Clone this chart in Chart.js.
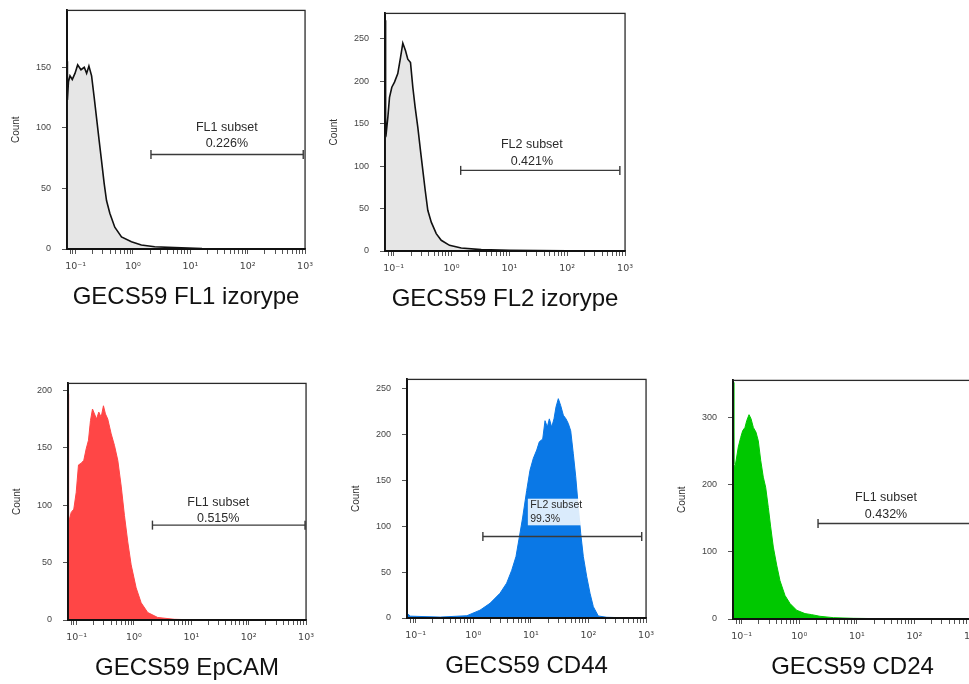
<!DOCTYPE html>
<html><head><meta charset="utf-8">
<script src="https://cdn.jsdelivr.net/npm/chart.js@4.4.1/dist/chart.umd.min.js"></script>
<style>
html,body{margin:0;padding:0;width:969px;height:684px;overflow:hidden;background:#fff;position:relative;}
canvas{position:absolute;}
</style></head><body>
<canvas id="c0"></canvas><canvas id="c1"></canvas><canvas id="c2"></canvas><canvas id="c3"></canvas><canvas id="c4"></canvas>
<script>
// ---------- data ----------
const xTickValues = [0.1, 1, 10, 100, 1000];
const xTickLabels = ['10⁻¹', '10⁰', '10¹', '10²', '10³'];

const panelTitles = ['GECS59 FL1 izorype', 'GECS59 FL2 izorype', 'GECS59 EpCAM', 'GECS59 CD44', 'GECS59 CD24'];
const gateNames = ['FL1 subset', 'FL2 subset', 'FL1 subset', 'FL2 subset', 'FL1 subset'];
const gatePercents = ['0.226%', '0.421%', '0.515%', '99.3%', '0.432%'];
const gateStarts = [2.06, 1.44, 2.1, 1.47, 2.12];
const gateEnds = [930, 813, 960, 841, 1000];
const gateLevels = [78, 95, 82.6, 88.8, 142];
const yMaxes = [197, 280, 206, 260, 355];

const fl1IsoIntensity = [0.0708,0.072,0.075,0.0798,0.0875,0.0975,0.1086,0.124,0.1416,0.1556,0.1706,0.19,0.211,0.232,0.258,0.283,0.315,0.346,0.395,0.482,0.631,0.94,1.4,2.39,5.3,16,100,1000];
const fl1IsoCount = [155,123,138,143,140,145,152,148,150,145,151,143,125,108,89,73,54,40,29.5,18,10,6,3.3,1.9,1.1,0.4,0.1,0];

const fl2IsoIntensity = [0.0708,0.0725,0.0741,0.0794,0.0847,0.0929,0.1033,0.1178,0.1312,0.1439,0.1603,0.1754,0.1954,0.2143,0.2355,0.2612,0.2911,0.3192,0.3516,0.389,0.4467,0.5445,0.6637,0.9247,1.472,3.266,10,100,1000];
const fl2IsoCount = [272,140,138,158,181,193,199,209,228,245,236,226,222,193,169,146,118,95,71,48,34,20.5,12.6,6.7,3.5,1.6,0.8,0.2,0];

const epcamIntensity = [0.0708,0.0725,0.0752,0.0805,0.0893,0.0984,0.1079,0.1202,0.1334,0.1469,0.1611,0.1746,0.1892,0.2051,0.2223,0.2438,0.2679,0.2938,0.3184,0.3491,0.4009,0.4571,0.5224,0.5984,0.6823,0.7798,0.8933,1.091,1.334,1.738,2.594,5.07,10,100,1000];
const epcamCount = [197,86,88,93.7,96.5,111,135,136.5,139,149,156.5,173.7,183.7,179.4,175,181,176.6,186.5,179.4,175,162,152,139,116.6,91,68,48,28,15,6.5,2.2,0.6,0.2,0,0];

const cd44Intensity = [0.0708,0.0813,0.269,0.776,1.309,1.954,2.917,3.802,4.656,5.521,6.31,7.228,8.472,9.66,11.04,12.65,14.03,16.07,17.62,19.32,20.94,23.01,25.23,27.35,29.99,32.96,36.64,40.74,44.67,49.2,54.58,60.12,66.68,73.45,81.47,93.33,106.4,121.6,148.3,207.5,400,1000];
const cd44Count = [5,2,1,2.5,8.5,16,27,38,52,67,88,110,139,161,174,183,192,195,215,208,217,208,217,230,239,231.5,221,217,212,204,179,154,121,92,67,45,27,12.3,2.2,0.8,0.3,0];

const cd24Intensity = [0.0708,0.0733,0.0767,0.082,0.0875,0.0962,0.1042,0.1143,0.1225,0.1343,0.1455,0.1596,0.1774,0.1945,0.2143,0.2377,0.2612,0.2904,0.3192,0.3548,0.4064,0.4634,0.5662,0.6918,0.9036,1.259,1.644,2.291,3.899,8.71,31.6,100,1000];
const cd24Count = [352,230,226,241,256,270,280,285,295,304,298,285,278,265,236,211,196,166,137,107,80,57,35,23,13,8,6.5,4,2,1,0.4,0.2,0];

// ---------- layout / style ----------
const FONT = "'Liberation Sans', Arial, Helvetica, sans-serif";
Chart.defaults.font.family = FONT;

const panels = [
  {l:67, t:10, w:238, h:239, xs:fl1IsoIntensity, ys:fl1IsoCount, fill:'#e6e6e6', line:'#111', lw:1.6, step:50,
   label:{x:43.3, ys:[100.5, 86.8], align:'center', size:12.5}},
  {l:385, t:13, w:240, h:238, xs:fl2IsoIntensity, ys:fl2IsoCount, fill:'#e6e6e6', line:'#111', lw:1.6, step:50,
   label:{x:24.5, ys:[125.5, 106], align:'center', size:12.5}},
  {l:68, t:383, w:238, h:237, xs:epcamIntensity, ys:epcamCount, fill:'#ff4646', line:'#ff4646', lw:1, step:50,
   label:{x:29.4, ys:[102.6, 88.7], align:'center', size:12.5}},
  {l:407, t:379, w:239, h:239, xs:cd44Intensity, ys:cd44Count, fill:'#0a78e6', line:'#0a78e6', lw:1, step:50,
   label:{x:9.75, ys:[123, 108], align:'left', size:10.5, box:{x0:8.87, x1:73.6, y0:101, y1:130}}},
  {l:733, t:380, w:239, h:239, xs:cd24Intensity, ys:cd24Count, fill:'#00c800', line:'#00c800', lw:1, step:100,
   label:{x:32.1, ys:[180.7, 156], align:'center', size:12.5}}
];

const minorTicks = [];
for (let e = -2; e <= 2; e++) for (let s = 1; s <= 9; s++) {
  const v = +(s * Math.pow(10, e)).toPrecision(3);
  if (v >= 0.0708 && v <= 1000) minorTicks.push(v);
}
minorTicks.push(1000);

function decadeLabel(v) {
  for (let i = 0; i < xTickValues.length; i++) {
    if (Math.abs(v - xTickValues[i]) / xTickValues[i] < 1e-6) return xTickLabels[i];
  }
  return '';
}

const gateTextPlugin = {
  id: 'gateText',
  afterDatasetsDraw(chart, args, o) {
    const {ctx, chartArea: a, scales: {x, y}} = chart;
    ctx.save();
    ctx.strokeStyle = '#2a2a2a'; ctx.lineWidth = 1.3;
    ctx.strokeRect(a.left, a.top, a.right - a.left, a.bottom - a.top);
    ctx.strokeStyle = '#111'; ctx.lineWidth = 1.8;
    ctx.beginPath(); ctx.moveTo(a.left, a.top); ctx.lineTo(a.left, a.bottom); ctx.lineTo(a.right, a.bottom); ctx.stroke();
    if (o.box) {
      const x0 = x.getPixelForValue(o.box.x0), x1 = x.getPixelForValue(o.box.x1);
      const y0 = y.getPixelForValue(o.box.y0), y1 = y.getPixelForValue(o.box.y1);
      ctx.fillStyle = 'rgba(255,255,255,0.85)';
      ctx.fillRect(x0, y1, x1 - x0, y0 - y1);
    }
    ctx.fillStyle = '#2b2b2b';
    ctx.font = o.size + 'px ' + FONT;
    ctx.textAlign = o.align; ctx.textBaseline = 'middle';
    o.lines.forEach((t, i) => ctx.fillText(t, x.getPixelForValue(o.x), y.getPixelForValue(o.ys[i])));
    ctx.restore();
  }
};

function makeChart(p, i, cw, ch) {
  const cv = document.getElementById('c' + i);
  cv.width = cw; cv.height = ch;
  cv.style.width = cw + 'px'; cv.style.height = ch + 'px';
  const pts = p.xs.map((v, k) => ({x: v, y: p.ys[k]}));
  return new Chart(cv, {
    type: 'line',
    data: {
      datasets: [
        {data: [{x: gateStarts[i], y: gateLevels[i]}, {x: gateEnds[i], y: gateLevels[i]}],
         borderColor: '#3a3a3a', borderWidth: 1.4, fill: false, clip: false, order: 0,
         pointStyle: 'line', pointRotation: 90, pointRadius: 4.5, pointBorderColor: '#3a3a3a', pointBorderWidth: 1.4,
         pointHoverRadius: 4.5},
        {data: pts, borderColor: p.line, borderWidth: p.lw, backgroundColor: p.fill, fill: 'origin',
         pointRadius: 0, tension: 0, order: 1}
      ]
    },
    options: {
      responsive: false, maintainAspectRatio: false, animation: false, devicePixelRatio: 1,
      layout: {padding: {top: 5, right: 8, left: 0, bottom: 0}},
      events: [],
      plugins: {
        legend: {display: false}, tooltip: {enabled: false},
        gateText: {lines: [gateNames[i], gatePercents[i]], x: p.label.x, ys: p.label.ys,
                   align: p.label.align, size: p.label.size, box: p.label.box || null}
      },
      scales: {
        x: {
          type: 'logarithmic', min: 0.0708, max: 1000,
          afterBuildTicks: s => { s.ticks = minorTicks.map(v => ({value: v})); },
          afterFit: s => { s.height = 60; },
          ticks: {autoSkip: false, maxRotation: 0, minRotation: 0, padding: 7, color: '#444',
                  font: {size: 9.5, family: "'DejaVu Sans', sans-serif"}, callback: v => decadeLabel(v)},
          grid: {display: true, drawOnChartArea: false, drawTicks: true, tickLength: 5, tickColor: '#555', tickWidth: 1},
          border: {display: true, color: '#111', width: 1.8},
          title: {display: true, text: panelTitles[i], color: '#111', font: {size: 24, lineHeight: 1}, padding: {top: 0, bottom: 0}}
        },
        y: {
          type: 'linear', min: 0, max: yMaxes[i],
          afterFit: s => { s.width = 60; },
          ticks: {stepSize: p.step, includeBounds: false, padding: 11, color: '#444', font: {size: 9}},
          grid: {display: true, drawOnChartArea: false, drawTicks: true, tickLength: 5, tickColor: '#555'},
          border: {display: true, color: '#111', width: 1.8},
          title: {display: true, text: 'Count', color: '#333', font: {size: 10}, padding: {top: 3, bottom: 0}}
        }
      }
    },
    plugins: [gateTextPlugin]
  });
}

panels.forEach((p, i) => {
  let cw = 60 + p.w + 8, ch = 5 + p.h + 60;
  let chart = makeChart(p, i, cw, ch);
  let a = chart.chartArea;
  const dw = p.w - (a.right - a.left), dh = p.h - (a.bottom - a.top);
  if (Math.abs(dw) > 0.5 || Math.abs(dh) > 0.5) {
    chart.destroy();
    cw = Math.round(cw + dw); ch = Math.round(ch + dh);
    chart = makeChart(p, i, cw, ch);
    a = chart.chartArea;
  }
  const cv = document.getElementById('c' + i);
  cv.style.left = (p.l - a.left) + 'px';
  cv.style.top = (p.t - a.top) + 'px';
});
</script>
</body></html>
